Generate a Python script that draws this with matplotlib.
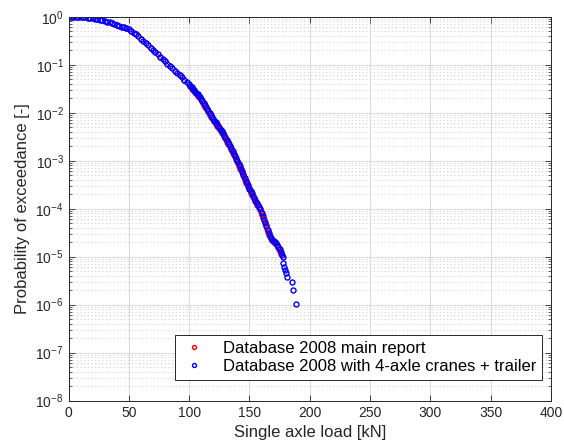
import numpy as np
import matplotlib
matplotlib.use("Agg")
import matplotlib.pyplot as plt

plt.rcParams['font.family'] = ['Liberation Sans', 'DejaVu Sans']
plt.rcParams['mathtext.default'] = 'regular'

# Database 2008 with 4-axle cranes + trailer (blue), load [kN] and log10 of exceedance probability
load_blue = [0, 2, 4, 6, 8, 10, 12, 14, 16, 18, 20, 22, 24, 26, 28, 30, 32, 34, 36, 38,
             40, 42, 44, 46, 48, 50, 52, 54, 56, 58, 60, 62, 64, 66, 68, 70, 72, 74, 76, 78,
             80, 82, 84, 86, 88, 90, 92, 94, 96, 98, 100,
             101, 102, 103, 104, 105, 106, 107, 108, 109, 110, 111, 112, 113, 114, 115, 116,
             117, 118, 119, 120, 121, 122, 123, 124, 125, 126, 127, 128, 129, 130, 131, 132,
             133, 134, 135, 136, 137, 138, 139, 140, 141, 142, 143, 144, 145, 146, 147, 148,
             149, 150, 151, 152, 153, 154, 155, 156, 157, 158, 159, 160, 161, 162, 163, 164,
             165, 166, 167, 168, 169, 170, 171, 172, 173, 174, 175, 176, 177,
             177.4, 178.1, 178.7, 179.5, 180.1, 180.9, 185.1, 186.4, 188.4]
logp_blue = [0.000, 0.000, -0.001, -0.002, -0.004, -0.006, -0.009, -0.013, -0.018, -0.025,
             -0.033, -0.042, -0.052, -0.063, -0.075, -0.088, -0.102, -0.117, -0.133, -0.150,
             -0.167, -0.185, -0.204, -0.224, -0.245, -0.265, -0.295, -0.330, -0.370, -0.410,
             -0.455, -0.500, -0.547, -0.594, -0.642, -0.690, -0.738, -0.786, -0.834, -0.882,
             -0.930, -0.978, -1.026, -1.074, -1.122, -1.170, -1.218, -1.266, -1.314, -1.362,
             -1.410,
             -1.440, -1.470, -1.500, -1.530, -1.560, -1.590, -1.620, -1.650, -1.680, -1.720,
             -1.760, -1.800, -1.840, -1.885, -1.930, -1.970, -2.010, -2.050, -2.090, -2.130,
             -2.165, -2.200, -2.235, -2.270, -2.310, -2.350, -2.390, -2.430, -2.475, -2.520,
             -2.565, -2.610, -2.655, -2.700, -2.750, -2.800, -2.850, -2.900, -2.960, -3.010,
             -3.065, -3.120, -3.175, -3.235, -3.295, -3.355, -3.415, -3.470, -3.525, -3.580,
             -3.630, -3.680, -3.730, -3.780, -3.830, -3.875, -3.920, -3.965, -4.010, -4.080,
             -4.150, -4.225, -4.300, -4.370, -4.440, -4.510, -4.575, -4.615, -4.645, -4.670,
             -4.690, -4.720, -4.755, -4.800, -4.845, -4.900, -4.960,
             -5.000, -5.140, -5.210, -5.280, -5.350, -5.420, -5.520, -5.690, -5.990]

# Database 2008 main report (red)
load_red = [0, 4, 8, 12, 16, 20, 24, 28, 32, 36, 40, 44, 48, 52, 56, 60, 64, 68, 72, 76,
            80, 84, 88, 92, 96,
            100.5, 101.5, 102.5, 103.5, 104.5, 105.5, 106.5, 107.5, 108.5, 109.5, 110.5,
            111.5, 112.5, 113.5, 114.5, 115.5, 116.5, 117.5, 118.5, 119.5, 120.5, 121.5,
            122.5, 123.5, 124.5, 125.5, 126.5, 127.5, 128.5, 129.5, 130.5, 131.5, 132.5,
            133.5, 134.5, 135.5, 136.5, 137.5, 138.5, 139.5, 140.5, 141.5, 142.5, 143.5,
            144.5, 145.5, 146.5, 147.5, 148.5, 149.5, 150.5, 151.5, 152.5, 153.5, 154.5,
            155.5, 156.5, 157.5, 158.5, 159.5, 160.5, 161.5, 162.5, 163.5, 164.5, 165.5,
            166.5, 167.5, 168.5, 169.5, 170.5, 171.5, 172.5, 173.5, 174.5, 175.5, 176.5]
logp_red = [0.000, -0.001, -0.004, -0.009, -0.018, -0.033, -0.052, -0.075, -0.102, -0.133,
            -0.167, -0.204, -0.245, -0.295, -0.370, -0.455, -0.547, -0.642, -0.738, -0.834,
            -0.930, -1.026, -1.122, -1.218, -1.314,
            -1.440, -1.470, -1.500, -1.530, -1.560, -1.590, -1.620, -1.650, -1.680, -1.715,
            -1.755, -1.795, -1.835, -1.878, -1.923, -1.965, -2.005, -2.045, -2.085, -2.125,
            -2.163, -2.198, -2.233, -2.268, -2.305, -2.345, -2.385, -2.425, -2.468, -2.513,
            -2.558, -2.603, -2.648, -2.693, -2.740, -2.790, -2.840, -2.890, -2.945, -3.000,
            -3.053, -3.108, -3.163, -3.220, -3.280, -3.340, -3.400, -3.458, -3.513, -3.568,
            -3.620, -3.670, -3.720, -3.770, -3.820, -3.868, -3.913, -3.958, -4.003, -4.060,
            -4.130, -4.203, -4.278, -4.350, -4.420, -4.490, -4.558, -4.610, -4.645, -4.673,
            -4.695, -4.720, -4.753, -4.793, -4.838, -4.888, -4.940]

labels = ["Database 2008 main report", "Database 2008 with 4-axle cranes + trailer"]
x_ticks = [0, 50, 100, 150, 200, 250, 300, 350, 400]

fig = plt.figure(figsize=(5.64, 4.48), dpi=100)
ax = fig.add_axes([0.1215, 0.1056, 0.8555, 0.8571])

ax.semilogy(load_red, 10.0 ** np.array(logp_red), 'o', linestyle='none',
            mfc='none', mec='red', ms=3.6, mew=1.0, label=labels[0])
ax.semilogy(load_blue, 10.0 ** np.array(logp_blue), 'o', linestyle='none',
            mfc='none', mec='blue', ms=3.6, mew=1.0, label=labels[1])

ax.set_xlim(0, 400)
ax.set_ylim(1e-8, 1)
ax.set_xticks(x_ticks)
ax.set_yticks([10.0 ** k for k in range(-8, 1)])

ax.grid(True, which='major', color='#dcdcdc', linewidth=0.8, linestyle='-')
ax.yaxis.grid(True, which='minor', color='#c4c4c4', linewidth=0.6, linestyle=(0, (1.2, 3.2)))
ax.set_axisbelow(True)

ax.tick_params(which='both', direction='in', top=True, right=True, colors='#262626',
               labelsize=10)
ax.tick_params(which='major', length=4, width=0.6)
ax.tick_params(which='minor', length=2.5, width=0.5)
ax.tick_params(axis='x', which='minor', bottom=False, top=False)
for s in ax.spines.values():
    s.set_color('#262626')
    s.set_linewidth(0.7)

ax.set_xlabel("Single axle load [kN]", fontsize=12, color='#262626')
ax.set_ylabel("Probability of exceedance [-]", fontsize=12, color='#262626')

leg = ax.legend(loc='lower right', bbox_to_anchor=(0.981, 0.054), borderaxespad=0,
                fontsize=12, fancybox=False, edgecolor='#262626', framealpha=1,
                handlelength=1.6, handletextpad=0.9, borderpad=0.35, labelspacing=0.2,
                markerscale=0.8)
leg.get_frame().set_linewidth(0.7)

fig.savefig("out.png", dpi=100)
